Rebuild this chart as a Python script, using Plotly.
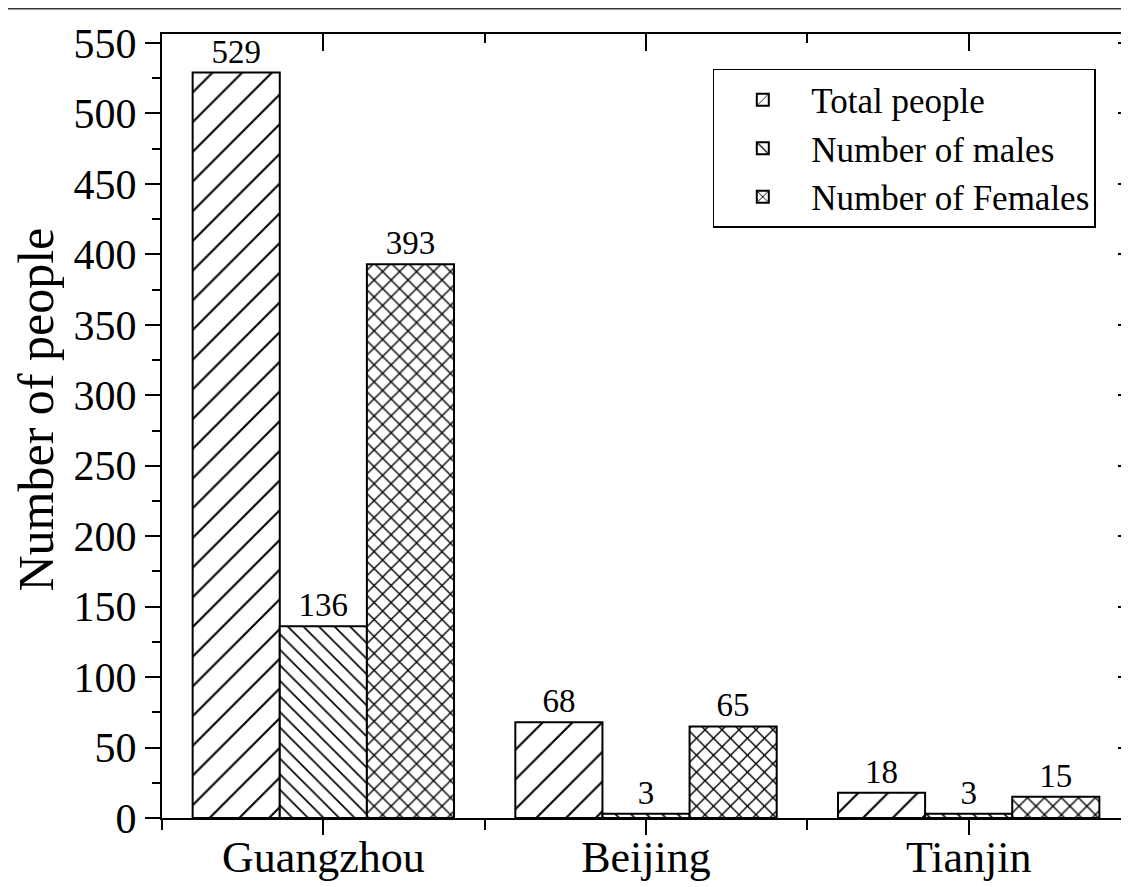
import plotly.graph_objects as go

categories = ["Guangzhou", "Beijing", "Tianjin"]
series_names = ["Total people", "Number of males", "Number of Females"]
total_people = [529, 68, 18]
number_of_males = [136, 3, 3]
number_of_females = [393, 65, 15]
y_tick_values = [0, 50, 100, 150, 200, 250, 300, 350, 400, 450, 500, 550]

series_values = [total_people, number_of_males, number_of_females]
patterns = [dict(shape="/", size=21, solidity=0.1),
            dict(shape="\\", size=11, solidity=0.15),
            dict(shape="x", size=12, solidity=0.22)]

FONT = "Liberation Serif, Times New Roman, serif"
x_pos = list(range(len(categories)))

# page offset of the html body (8px) is compensated in the margins
L, T, R, B = 154, 26, 7, 77
W, H = 1129, 887
PW = W - L - R
PH = H - T - B

fig = go.Figure()
for name, vals, pat in zip(series_names, series_values, patterns):
    fig.add_trace(go.Bar(
        x=x_pos, y=vals, name=name, legendgroup=name,
        marker=dict(color="white",
                    line=dict(color="black", width=2),
                    pattern=dict(fgcolor="black", bgcolor="white", fillmode="replace", **pat)),
        text=vals, texttemplate="%{y}", textposition="outside",
        textfont=dict(family=FONT, size=33, color="black"),
        cliponaxis=False,
    ))
# empty trace so that the mirrored top/right axes are drawn
fig.add_trace(go.Scatter(x=[], y=[], xaxis="x2", yaxis="y2", showlegend=False, hoverinfo="skip"))

yr = [0, 556.4]
xr = [-0.5, len(categories) - 0.5]

fig.update_layout(
    width=W, height=H,
    margin=dict(l=L, r=R, t=T, b=B),
    paper_bgcolor="white", plot_bgcolor="white",
    barmode="group", bargap=0.19, bargroupgap=0,
    font=dict(family=FONT, color="black"),
    showlegend=True,
    legend=dict(x=0.569, y=0.9554, xanchor="left", yanchor="top",
                bordercolor="black", borderwidth=1.5, bgcolor="white",
                font=dict(family=FONT, size=35, color="black"),
                itemwidth=87, traceorder="normal", tracegroupgap=4),
    xaxis=dict(range=xr, tickmode="array", tickvals=x_pos, ticktext=categories,
               ticks="outside", ticklen=15, tickwidth=2, tickcolor="black",
               minor=dict(tick0=0.5, dtick=1, ticks="outside", ticklen=10, tickwidth=2, tickcolor="black"),
               showline=True, linecolor="black", linewidth=2, showgrid=False, zeroline=False,
               tickfont=dict(family=FONT, size=44, color="black"), ticklabelstandoff=-16,
               automargin=False, fixedrange=True),
    yaxis=dict(range=yr, tickmode="array", tickvals=y_tick_values,
               ticks="outside", ticklen=15, tickwidth=2, tickcolor="black",
               minor=dict(tick0=25, dtick=50, ticks="outside", ticklen=8, tickwidth=2, tickcolor="black"),
               showline=True, linecolor="black", linewidth=2, showgrid=False, zeroline=False,
               tickfont=dict(family=FONT, size=42, color="black"),
               automargin=False, fixedrange=True),
    xaxis2=dict(overlaying="x", side="top", anchor="y2", range=xr, tickmode="array", tickvals=x_pos,
                ticks="inside", ticklen=17, tickwidth=2, tickcolor="black", showticklabels=False,
                minor=dict(tick0=0.5, dtick=1, ticks="inside", ticklen=9, tickwidth=2, tickcolor="black"),
                showline=True, linecolor="black", linewidth=2, showgrid=False, zeroline=False,
                automargin=False, fixedrange=True),
    yaxis2=dict(overlaying="y", side="right", anchor="x2", range=yr, tickmode="array", tickvals=y_tick_values,
                ticks="inside", ticklen=12, tickwidth=2, tickcolor="black", showticklabels=False,
                minor=dict(tick0=25, dtick=50, ticks="inside", ticklen=5, tickwidth=2, tickcolor="black"),
                showline=False, showgrid=False, zeroline=False, automargin=False, fixedrange=True),
    annotations=[dict(text="Number of people", xref="paper", yref="paper",
                      x=(35.5 - 162) / PW, y=(818 - 410) / PH,
                      xanchor="center", yanchor="middle", textangle=-90, showarrow=False,
                      font=dict(family=FONT, size=50, color="black"))],
    shapes=[dict(type="line", xref="paper", yref="paper",
                 x0=-L / PW, x1=(W - L) / PW, y0=1 + (T - 0.75) / PH, y1=1 + (T - 0.75) / PH,
                 line=dict(color="#333333", width=1.5))],
)

fig.write_html("out.html")
